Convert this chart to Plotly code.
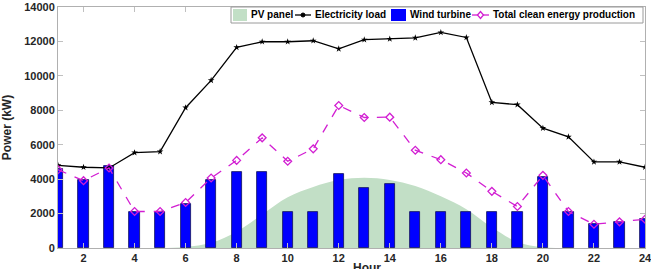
import plotly.graph_objects as go

hours = list(range(1, 25))
load = [4800, 4690, 4650, 5540, 5600, 8150, 9740, 11650, 11980, 11980, 12040, 11570,
        12100, 12140, 12210, 12520, 12230, 8460, 8325, 6960, 6460, 5000, 5000, 4690]
wind = [4590, 3930, 4740, 2120, 2120, 2530, 3930, 4390, 4430, 2120, 2120, 4320,
        3500, 3715, 2120, 2120, 2120, 2120, 2120, 4140, 2120, 1380, 1520, 1670]
total = [4550, 3910, 4650, 2120, 2120, 2640, 4065, 5090, 6400, 5040, 5760, 8280,
         7580, 7600, 5680, 5130, 4360, 3290, 2410, 4220, 2120, 1380, 1520, 1670]
pv = [0, 0, 0, 0, 0, 60, 300, 950, 1950, 2950, 3550, 3950,
      4080, 3950, 3600, 3000, 2250, 1200, 350, 50, 0, 0, 0, 0]
xticks = [2, 4, 6, 8, 10, 12, 14, 16, 18, 20, 22, 24]
yticks = [0, 2000, 4000, 6000, 8000, 10000, 12000, 14000]
legend_names = ["PV panel", "Electricity load", "Wind turbine", "Total clean energy production"]

FONT = "Liberation Sans"
PV_COL = "#c2dfc6"
WIND_COL = "#0000ff"
LOAD_COL = "black"
TOT_COL = "#d21ed2"

W, H = 651, 269
L, R, T, B = 58, 6, 7, 21
PW, PH = W - L - R, H - T - B


def px(x):
    return (x - L) / PW


def py(y):
    return (H - B - y) / PH


fig = go.Figure()
# PV area on the base axes (drawn below)
fig.add_trace(go.Scatter(
    x=hours, y=pv, name=legend_names[0], mode="lines", fill="tozeroy",
    line=dict(color=PV_COL, width=0, shape="spline", smoothing=1.0),
    fillcolor=PV_COL, showlegend=False))
# Bars and lines on overlay axes (drawn on top of the PV area)
fig.add_trace(go.Bar(
    x=hours, y=wind, name=legend_names[2], width=0.4, xaxis="x2", yaxis="y2",
    marker=dict(color=WIND_COL, line=dict(color="#10105a", width=0.8)),
    showlegend=False))
fig.add_trace(go.Scatter(
    x=hours, y=load, name=legend_names[1], mode="lines+markers", xaxis="x2", yaxis="y2",
    line=dict(color=LOAD_COL, width=1.3),
    marker=dict(symbol="star", size=5, color=LOAD_COL),
    showlegend=False))
fig.add_trace(go.Scatter(
    x=hours, y=total, name=legend_names[3], mode="lines+markers", xaxis="x2", yaxis="y2",
    line=dict(color=TOT_COL, width=1.3, dash="dash"),
    marker=dict(symbol="diamond-open", size=6, color=TOT_COL, line=dict(width=1.3)),
    showlegend=False))

axis_common = dict(showline=True, linecolor="#b0b0b0", linewidth=1, mirror="ticks",
                   ticks="inside", ticklen=5, tickcolor="#c0c0c0", showgrid=False,
                   zeroline=False, automargin=False, ticklabeloverflow="allow",
                   tickfont=dict(family=FONT, size=11, color="#262626"))

# Manual compact legend (MATLAB style)
shapes = []
annotations = []
lx0, lx1, ly0, ly1 = 231, 643, 7, 23
shapes.append(dict(type="rect", xref="paper", yref="paper",
                   x0=px(lx0), x1=px(lx1), y0=py(ly1), y1=py(ly0),
                   fillcolor="white", line=dict(color="#9a9a9a", width=1), layer="above"))
yc = (ly0 + ly1) / 2
# PV patch
shapes.append(dict(type="rect", xref="paper", yref="paper",
                   x0=px(233), x1=px(247), y0=py(yc + 6), y1=py(yc - 6),
                   fillcolor=PV_COL, line=dict(width=0), layer="above"))
# Load line + marker
shapes.append(dict(type="line", xref="paper", yref="paper",
                   x0=px(295), x1=px(311), y0=py(yc), y1=py(yc),
                   line=dict(color=LOAD_COL, width=1.3), layer="above"))
shapes.append(dict(type="circle", xref="paper", yref="paper",
                   x0=px(301), x1=px(305), y0=py(yc + 2), y1=py(yc - 2),
                   fillcolor=LOAD_COL, line=dict(color=LOAD_COL, width=1), layer="above"))
# Wind patch
shapes.append(dict(type="rect", xref="paper", yref="paper",
                   x0=px(391), x1=px(406), y0=py(yc + 6), y1=py(yc - 6),
                   fillcolor=WIND_COL, line=dict(width=0), layer="above"))
# Total line + diamond
shapes.append(dict(type="line", xref="paper", yref="paper",
                   x0=px(472), x1=px(489), y0=py(yc), y1=py(yc),
                   line=dict(color=TOT_COL, width=1.3), layer="above"))
dcx = 480.5
shapes.append(dict(type="path", xref="paper", yref="paper",
                   path=(f"M {px(dcx - 3)} {py(yc)} L {px(dcx)} {py(yc - 3.5)} "
                         f"L {px(dcx + 3)} {py(yc)} L {px(dcx)} {py(yc + 3.5)} Z"),
                   fillcolor="white", line=dict(color=TOT_COL, width=1.3), layer="above"))
for name, xs in zip(legend_names, [249, 313, 408, 491]):
    annotations.append(dict(text=f"<b>{name}</b>", xref="paper", yref="paper",
                            x=px(xs), y=py(yc), xanchor="left", yanchor="middle",
                            showarrow=False, font=dict(family=FONT, size=10, color="black")))
# x-axis title (MATLAB places it below the tick labels, partly outside the crop)
annotations.append(dict(text="<b>Hour</b>", xref="paper", yref="paper",
                        x=px(367), y=py(259), xanchor="center", yanchor="top",
                        showarrow=False, font=dict(family=FONT, size=12, color="#262626")))

fig.update_layout(
    width=W, height=H,
    margin=dict(l=L, r=R, t=T, b=B),
    plot_bgcolor="white", paper_bgcolor="white",
    font=dict(family=FONT, size=11, color="#262626"),
    barmode="overlay", bargap=0,
    showlegend=False, hovermode=False,
    shapes=shapes, annotations=annotations,
    xaxis=dict(range=[1, 24], tickvals=xticks, ticktext=[f"<b>{t}</b>" for t in xticks],
               **axis_common),
    yaxis=dict(range=[0, 14000], tickvals=yticks, ticktext=[f"<b>{t}</b>" for t in yticks],
               title=dict(text="<b>Power (kW)</b>", font=dict(family=FONT, size=12), standoff=10),
               **axis_common),
    xaxis2=dict(range=[1, 24], overlaying="x", visible=False),
    yaxis2=dict(range=[0, 14000], overlaying="y", visible=False),
)
fig.write_html("out.html", config={"displayModeBar": False},
               post_script="document.body.style.margin='0';document.body.style.overflow='hidden';")
